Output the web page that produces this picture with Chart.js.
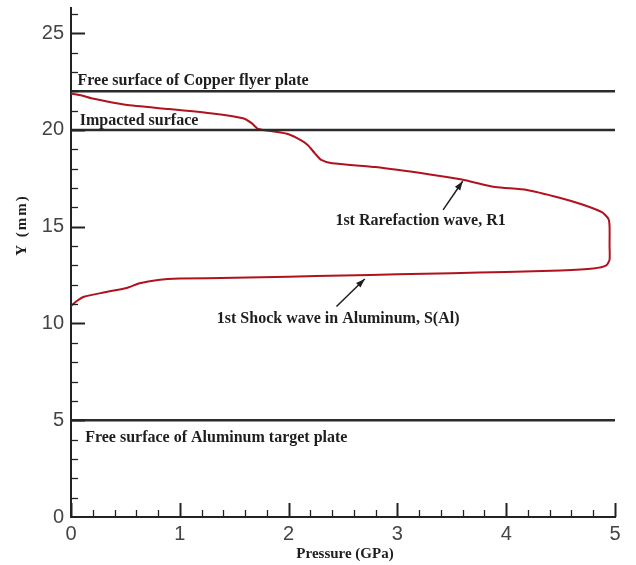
<!DOCTYPE html>
<html>
<head>
<meta charset="utf-8">
<script src="https://cdn.jsdelivr.net/npm/chart.js@4/dist/chart.umd.min.js"></script>
<style>
  html, body { margin: 0; padding: 0; background: #fff; }
  canvas { display: block; }
</style>
</head>
<body>
<canvas id="c" width="636" height="565"></canvas>
<script>
// Pressure profile through the plates (x = pressure, y = position)
const pressureGPa = [0, 0.05, 0.12, 0.3, 0.51, 0.63, 0.8, 1.0, 1.5, 2.0, 2.5, 3.0, 3.5, 4.0, 4.5, 4.8, 4.92, 4.95, 4.95, 4.95, 4.94, 4.88, 4.7, 4.49, 4.19, 3.9, 3.7, 3.58, 3.3, 2.8, 2.4, 2.3, 2.24, 2.18, 2.12, 2.0, 1.85, 1.72, 1.66, 1.58, 1.3, 0.9, 0.5, 0.2, 0.1, 0];
const positionMM  = [10.9, 11.15, 11.38, 11.6, 11.83, 12.08, 12.25, 12.32, 12.36, 12.42, 12.48, 12.54, 12.6, 12.66, 12.74, 12.84, 13.0, 13.3, 14.0, 15.0, 15.4, 15.75, 16.15, 16.5, 16.9, 17.05, 17.3, 17.45, 17.7, 18.08, 18.28, 18.45, 18.8, 19.2, 19.45, 19.78, 19.93, 20.05, 20.35, 20.6, 20.85, 21.08, 21.3, 21.62, 21.78, 21.88];

// Plate boundaries (mm)
const boundaryY = [22, 20, 5];

// Text labels and their anchor points (data units, left / baseline)
const noteTexts = [
  'Free surface of Copper flyer plate',
  'Impacted surface',
  '1st Rarefaction wave, R1',
  '1st Shock wave in Aluminum, S(Al)',
  'Free surface of Aluminum target plate'
];
const noteX = [0.06, 0.08, 2.43, 1.34, 0.13];
const noteY = [22.33, 20.24, 15.1, 10.0, 3.9];

// Arrows: tail -> head (data units)
const arrowTailX = [3.42, 2.44];
const arrowTailY = [15.87, 10.88];
const arrowHeadX = [3.6, 2.7];
const arrowHeadY = [17.35, 12.3];

const xRange = [0, 5];
const yRange = [0, 26.3];
const xTitle = 'Pressure (GPa)';
const yTitle = 'Y (mm)';

const curve = pressureGPa.map((p, i) => ({ x: p, y: positionMM[i] }));
const boundaryDatasets = boundaryY.map(v => ({
  data: [{ x: xRange[0], y: v }, { x: xRange[1], y: v }],
  borderColor: '#2b2b2b',
  borderWidth: 2.5,
  showLine: true,
  pointRadius: 0,
  tension: 0
}));

const serif = '"Liberation Serif", "Times New Roman", serif';

const decorations = {
  id: 'decorations',
  afterDatasetsDraw(chart) {
    const ctx = chart.ctx;
    const xs = chart.scales.x, ys = chart.scales.y;
    const x0 = xs.getPixelForValue(0), yb = ys.getPixelForValue(0);
    ctx.save();
    ctx.strokeStyle = '#222';
    // inward ticks on the x axis
    for (let k = 0; k <= 25; k++) {
      const v = k * 0.2;
      const px = Math.round(xs.getPixelForValue(v)) + 0.5;
      const major = k % 5 === 0;
      ctx.lineWidth = major ? 2 : 1.3;
      ctx.beginPath();
      ctx.moveTo(px, yb);
      ctx.lineTo(px, yb - (major ? 14 : 7));
      ctx.stroke();
    }
    // inward ticks on the y axis
    for (let v = 1; v <= 26; v++) {
      const py = Math.round(ys.getPixelForValue(v)) + 0.5;
      const major = v % 5 === 0;
      ctx.lineWidth = major ? 2 : 1.3;
      ctx.beginPath();
      ctx.moveTo(x0, py);
      ctx.lineTo(x0 + (major ? 14 : 7), py);
      ctx.stroke();
    }
    // annotations
    ctx.fillStyle = '#1e1e1e';
    ctx.font = 'bold 16px ' + serif;
    ctx.textAlign = 'left';
    ctx.textBaseline = 'alphabetic';
    noteTexts.forEach((t, i) => {
      ctx.fillText(t, xs.getPixelForValue(noteX[i]), ys.getPixelForValue(noteY[i]));
    });
    // arrows
    ctx.strokeStyle = '#1e1e1e';
    ctx.lineWidth = 1.5;
    arrowTailX.forEach((tx, i) => {
      const ax = xs.getPixelForValue(tx), ay = ys.getPixelForValue(arrowTailY[i]);
      const bx = xs.getPixelForValue(arrowHeadX[i]), by = ys.getPixelForValue(arrowHeadY[i]);
      const ang = Math.atan2(by - ay, bx - ax);
      ctx.beginPath();
      ctx.moveTo(ax, ay);
      ctx.lineTo(bx, by);
      ctx.stroke();
      const L = 9, W = 3.2;
      ctx.beginPath();
      ctx.moveTo(bx, by);
      ctx.lineTo(bx - L * Math.cos(ang) + W * Math.sin(ang), by - L * Math.sin(ang) - W * Math.cos(ang));
      ctx.lineTo(bx - L * Math.cos(ang) - W * Math.sin(ang), by - L * Math.sin(ang) + W * Math.cos(ang));
      ctx.closePath();
      ctx.fill();
    });
    // axis titles
    ctx.font = 'bold 15px ' + serif;
    ctx.textAlign = 'center';
    ctx.textBaseline = 'middle';
    ctx.fillText(xTitle, (xs.left + xs.right) / 2 + 2, 554);
    ctx.save();
    ctx.translate(22, 225);
    ctx.rotate(-Math.PI / 2);
    ctx.letterSpacing = '2px';
    ctx.fillText(yTitle, 0, 0);
    ctx.restore();
    ctx.restore();
  }
};

new Chart(document.getElementById('c'), {
  type: 'scatter',
  data: {
    datasets: [
      ...boundaryDatasets,
      {
        data: curve,
        borderColor: '#b0121e',
        borderWidth: 2,
        showLine: true,
        pointRadius: 0,
        tension: 0.2
      }
    ]
  },
  options: {
    responsive: false,
    animation: false,
    layout: { padding: { top: 8, right: 21, left: 0, bottom: 0 } },
    plugins: { legend: { display: false }, tooltip: { enabled: false } },
    scales: {
      x: {
        type: 'linear',
        min: xRange[0],
        max: xRange[1],
        afterFit(s) { s.height = 48; s.paddingLeft = 0; s.paddingRight = 0; },
        ticks: {
          stepSize: 1,
          padding: 5,
          color: '#444',
          font: { family: '"Liberation Sans", Arial, sans-serif', size: 20 },
          maxRotation: 0
        },
        grid: { drawOnChartArea: false, drawTicks: false },
        border: { display: true, color: '#222', width: 2 }
      },
      y: {
        type: 'linear',
        min: yRange[0],
        max: yRange[1],
        afterFit(s) { s.width = 71; s.paddingTop = 0; s.paddingBottom = 0; },
        ticks: {
          stepSize: 5,
          includeBounds: false,
          padding: 7,
          color: '#444',
          font: { family: '"Liberation Sans", Arial, sans-serif', size: 20 }
        },
        grid: { drawOnChartArea: false, drawTicks: false },
        border: { display: true, color: '#222', width: 2 }
      }
    }
  },
  plugins: [decorations]
});
</script>
</body>
</html>
